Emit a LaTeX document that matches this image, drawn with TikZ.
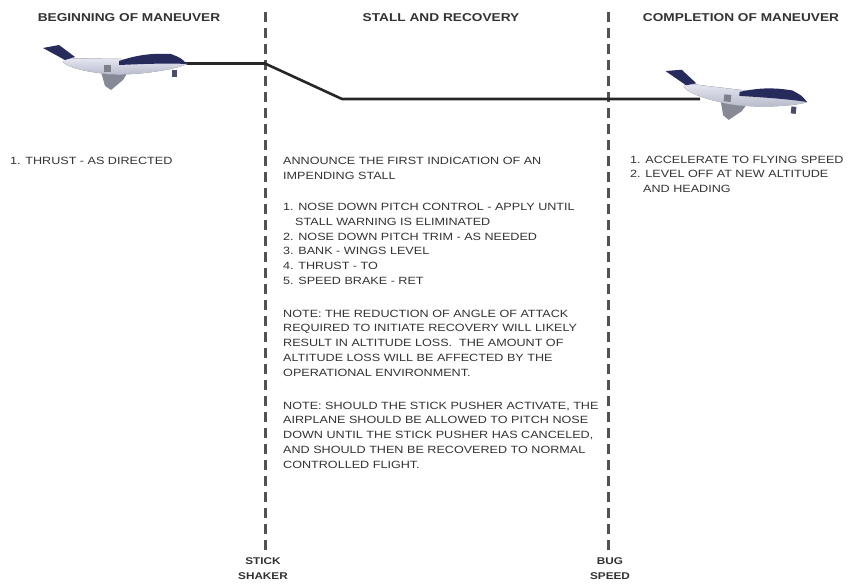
\documentclass[tikz,border=0pt]{standalone}
\usepackage{fontspec}
\setmainfont[FakeStretch=1.2]{Liberation Sans}
\definecolor{ink}{HTML}{333333}
\definecolor{navy}{HTML}{262B5C}
\definecolor{hull}{HTML}{E6E8F2}
\definecolor{hullshade}{HTML}{B4B7C8}
\begin{document}
\begin{tikzpicture}[x=1pt,y=-1pt,
  divider/.style={draw=ink!85, line width=3pt, dash pattern=on 10pt off 6pt},
  flightpath/.style={draw=black!85, line width=2.6pt, line join=round},
  head/.style={font=\bfseries\fontsize{11.4}{13}\selectfont, text=ink, inner sep=0pt},
  body/.style={font=\fontsize{10.5}{14.8}\selectfont, text=ink, align=left, anchor=north west, inner sep=0pt},
  eventlabel/.style={font=\bfseries\fontsize{9.8}{15.5}\selectfont, text=ink, align=center, anchor=north, inner sep=0pt},
  jet/.pic={
    % lower wing, seen behind the fuselage
    \fill[hullshade!75!black] (-86,8) -- (-58,6) -- (-64,16) -- (-76,26) -- (-82,22) -- cycle;
    % fuselage
    \fill[top color=hull, bottom color=hullshade, draw=hullshade!70, line width=0.4pt]
      (-124,-6) .. controls (-90,-5) and (-40,-5) .. (-14,-4)
      .. controls (-6,-3) .. (0,0)
      .. controls (-10,5) and (-50,12) .. (-78,10)
      .. controls (-100,8) and (-118,4) .. (-124,-2) -- cycle;
    % engine pod
    \fill[hullshade!70!black] (-83,1) rectangle (-76,8);
    % tail fin
    \fill[navy] (-144,-16) -- (-128,-19) -- (-112,-7) -- (-122,-4) -- cycle;
    % dark upper body and wing
    \fill[navy] (-68,-3) .. controls (-50,-9) and (-36,-11) .. (-16,-10)
      .. controls (-6,-6) .. (0,0)
      .. controls (-20,-1) and (-45,0) .. (-68,1) -- cycle;
    % landing gear
    \fill[navy!60!gray] (-15,6) rectangle (-10,13);
  }]
\useasboundingbox (0,0) rectangle (854,586);

% phase headings
\node[head] (h1) at (129,18) {BEGINNING OF MANEUVER};
\node[head] (h2) at (441,18) {STALL AND RECOVERY};
\node[head] (h3) at (741,18) {COMPLETION OF MANEUVER};

% phase boundaries
\coordinate (s0) at (265,12);
\coordinate (s1) at (265,550);
\coordinate (b0) at (608.5,12);
\coordinate (b1) at (608.5,550);
\draw[divider] (s0) -- (s1);
\draw[divider] (b0) -- (b1);

% flight path
\coordinate (p0) at (185,63.5);
\coordinate (p1) at (265,63.5);
\coordinate (p2) at (342,99);
\coordinate (p3) at (700,99);
\draw[flightpath] (p0) -- (p1) -- (p2) -- (p3);

% airplanes
\pic at (187,64) {jet};
\pic[rotate=-6] at (807,102) {jet};

% procedure text
\node[body] (t1) at (10,157) {1. THRUST - AS DIRECTED};

\node[body] (t2) at (283,157) {ANNOUNCE THE FIRST INDICATION OF AN\\IMPENDING STALL};
\node[body] (t3) at (283,203) {1. NOSE DOWN PITCH CONTROL - APPLY UNTIL\\
\hspace*{12pt}STALL WARNING IS ELIMINATED\\
2. NOSE DOWN PITCH TRIM - AS NEEDED\\
3. BANK - WINGS LEVEL\\
4. THRUST - TO\\
5. SPEED BRAKE - RET};
\node[body] (t4) at (283,309.5) {NOTE: THE REDUCTION OF ANGLE OF ATTACK\\
REQUIRED TO INITIATE RECOVERY WILL LIKELY\\
RESULT IN ALTITUDE LOSS.\ \ THE AMOUNT OF\\
ALTITUDE LOSS WILL BE AFFECTED BY THE\\
OPERATIONAL ENVIRONMENT.};
\node[body] (t5) at (283,401.5) {NOTE: SHOULD THE STICK PUSHER ACTIVATE, THE\\
AIRPLANE SHOULD BE ALLOWED TO PITCH NOSE\\
DOWN UNTIL THE STICK PUSHER HAS CANCELED,\\
AND SHOULD THEN BE RECOVERED TO NORMAL\\
CONTROLLED FLIGHT.};

\node[body] (t6) at (630,155.5) {1. ACCELERATE TO FLYING SPEED\\
2. LEVEL OFF AT NEW ALTITUDE\\
\hspace*{13pt}AND HEADING};

% boundary labels
\node[eventlabel] (l1) at (263,557) {STICK\\SHAKER};
\node[eventlabel] (l2) at (610,557) {BUG\\SPEED};
\end{tikzpicture}
\end{document}
